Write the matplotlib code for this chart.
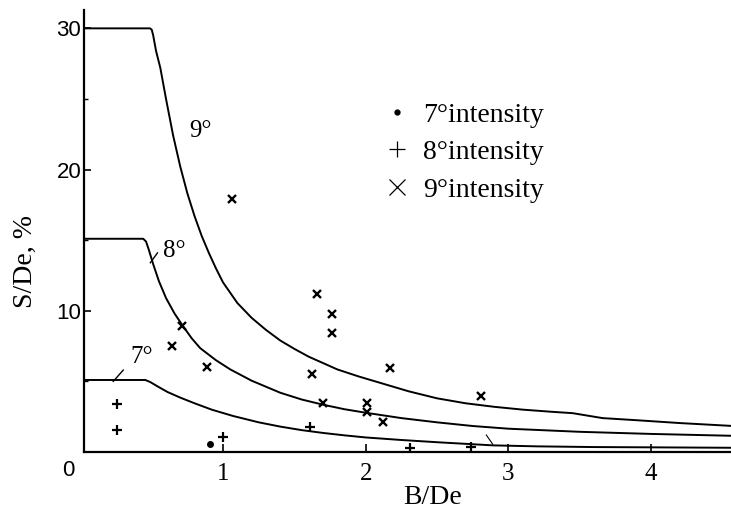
import matplotlib
matplotlib.use("Agg")
import matplotlib.pyplot as plt
from matplotlib.lines import Line2D

# ---- data ----
curve9_x = [0, 0.488, 0.50, 0.51, 0.53, 0.56, 0.60, 0.65, 0.70, 0.75, 0.80, 0.85, 0.90, 0.95, 1.00,
            1.10, 1.20, 1.30, 1.40, 1.50, 1.60, 1.70, 1.80, 1.95, 2.10, 2.30, 2.50, 2.70, 2.90, 3.10,
            3.30, 3.45, 3.66, 3.90, 4.20, 4.56]
curve9_y = [30, 30, 29.9, 29.5, 28.4, 27.2, 25.0, 22.4, 20.2, 18.3, 16.7, 15.3, 14.1, 13.0, 12.0,
            10.55, 9.5, 8.65, 7.9, 7.3, 6.75, 6.3, 5.85, 5.35, 4.9, 4.3, 3.8, 3.45, 3.2, 3.0,
            2.85, 2.75, 2.4, 2.25, 2.05, 1.85]

curve8_x = [0, 0.44, 0.46, 0.48, 0.51, 0.55, 0.60, 0.66, 0.72, 0.78, 0.84, 0.95, 1.05, 1.20, 1.40,
            1.55, 1.70, 1.85, 2.00, 2.25, 2.50, 2.75, 3.00, 3.50, 4.00, 4.56]
curve8_y = [15.1, 15.1, 14.9, 14.3, 13.3, 12.1, 10.9, 9.8, 8.9, 8.05, 7.35, 6.5, 5.85, 5.05, 4.2,
            3.72, 3.35, 3.03, 2.78, 2.4, 2.1, 1.84, 1.65, 1.43, 1.28, 1.15]

curve7_x = [0, 0.455, 0.49, 0.54, 0.61, 0.70, 0.80, 0.92, 1.07, 1.25, 1.40, 1.55, 1.70, 1.85, 2.00,
            2.25, 2.52, 2.75, 2.89, 3.20, 3.60, 4.00, 4.56]
curve7_y = [5.1, 5.1, 4.95, 4.65, 4.25, 3.85, 3.45, 3.0, 2.55, 2.1, 1.8, 1.55, 1.35, 1.18, 1.03,
            0.85, 0.68, 0.55, 0.47, 0.4, 0.35, 0.33, 0.3]

int7_x = [0.91]
int7_y = [0.54]

int8_x = [0.255, 0.255, 1.0, 1.61, 2.31, 2.74]
int8_y = [3.4, 1.56, 1.08, 1.75, 0.31, 0.33]

int9_x = [1.06, 0.715, 0.64, 0.886, 1.66, 1.76, 1.76, 1.62, 2.17, 2.81, 1.70, 2.01, 2.01, 2.12]
int9_y = [17.95, 8.92, 7.52, 6.04, 11.16, 9.74, 8.45, 5.52, 5.97, 3.99, 3.49, 3.49, 2.85, 2.15]

curve_labels = ["9°", "8°", "7°"]
legend_labels = ["7°intensity", "8°intensity", "9°intensity"]
xticks = [1, 2, 3, 4]
yticks = [10, 20, 30]

SERIF = "Liberation Serif"
SANS = "Liberation Sans"

fig = plt.figure(figsize=(7.31, 5.15), dpi=100)
ax = fig.add_axes([84 / 731, 63 / 515, 647 / 731, 442 / 515])
ax.set_xlim(0.025, 4.56)
ax.set_ylim(0, 31.3)

lw = 1.4
ax.plot(curve9_x, curve9_y, color="black", lw=lw, solid_joinstyle="round")
ax.plot(curve8_x, curve8_y, color="black", lw=lw, solid_joinstyle="round")
ax.plot(curve7_x, curve7_y, color="black", lw=lw, solid_joinstyle="round")

# leader lines for curve labels
ax.plot([0.49, 0.54], [13.4, 14.1], color="black", lw=1.0)
ax.plot([0.23, 0.30], [5.0, 5.8], color="black", lw=1.0)
ax.plot([2.845, 2.89], [1.2, 0.55], color="black", lw=0.8)

ax.text(0.84, 22.7, curve_labels[0], family=SERIF, fontsize=18, ha="center", va="center")
ax.text(0.66, 14.25, curve_labels[1], family=SERIF, fontsize=18, ha="center", va="center")
ax.text(0.43, 6.7, curve_labels[2], family=SERIF, fontsize=18, ha="center", va="center")

ax.plot(int7_x, int7_y, ls="none", marker="o", ms=4, color="black")
ax.plot(int8_x, int8_y, ls="none", marker="+", ms=7, mew=1.6, color="black")
ax.plot(int9_x, int9_y, ls="none", marker="x", ms=6, mew=1.7, color="black")

handles = [
    Line2D([], [], ls="none", marker="o", ms=3.5, color="black"),
    Line2D([], [], ls="none", marker="+", ms=12, mew=0.9, color="black"),
    Line2D([], [], ls="none", marker="x", ms=11, mew=0.9, color="black"),
]
ax.legend(handles, legend_labels, loc="upper left", bbox_to_anchor=(0.462, 0.791),
          frameon=False, prop={"family": SERIF, "size": 20}, handlelength=1.0,
          handletextpad=0.45, labelspacing=0.43, borderpad=0, borderaxespad=0)

for s in ["top", "right"]:
    ax.spines[s].set_visible(False)
for s in ["left", "bottom"]:
    ax.spines[s].set_linewidth(1.6)

ax.set_xticks(xticks)
ax.set_xticklabels([str(t) for t in xticks], family=SERIF, fontsize=18)
ax.set_yticks(yticks)
ax.set_yticklabels([str(t) for t in yticks], family=SANS, fontsize=16)
ax.set_yticks([5, 15, 25], minor=True)
ax.tick_params(axis="x", direction="in", length=6, width=1.2, pad=8)
ax.tick_params(axis="y", which="major", direction="in", length=5, width=1.2, pad=2)
ax.tick_params(axis="y", which="minor", direction="in", length=3, width=1.0)

ax.text(-0.086, -1.33, "0", family=SANS, fontsize=16, ha="center", va="center", clip_on=False)

ax.set_xlabel("B/De", family=SERIF, fontsize=20)
ax.xaxis.set_label_coords(0.539, -0.075)
ax.set_ylabel("S/De, %", family=SERIF, fontsize=20)
ax.yaxis.set_label_coords(-0.071, 0.43)

fig.savefig("out.png", dpi=100)
